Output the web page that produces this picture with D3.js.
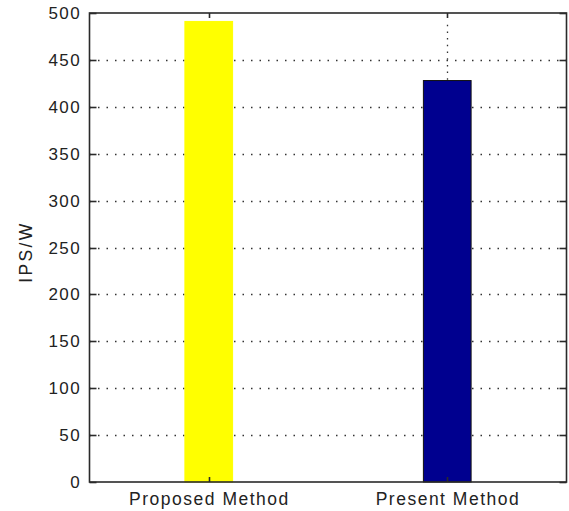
<!DOCTYPE html>
<html>
<head>
<meta charset="utf-8">
<script src="https://cdn.jsdelivr.net/npm/d3@7"></script>
<style>
html,body{margin:0;padding:0;background:#fff;}
svg{display:block;}
text{font-family:"Liberation Sans",Arial,sans-serif;fill:#222;}
</style>
</head>
<body>
<svg id="chart" width="569" height="511"></svg>
<script>
const categories = ["Proposed Method", "Present Method"];
const values = [491, 428];
const colors = ["#FFFF00", "#00008F"];
const yTicks = [0, 50, 100, 150, 200, 250, 300, 350, 400, 450, 500];
const yLabel = "IPS/W";

const svg = d3.select("#chart");
const L = 89.5, R = 566.5, T = 13, B = 482;

const x = d3.scaleLinear().domain([0.5, 2.5]).range([L, R]);
const y = d3.scaleLinear().domain([0, 500]).range([B, T]);
const barW = x(1.1) - x(0.9);

// grid
const g = svg.append("g");
g.selectAll("line.hg").data(yTicks.filter(d => d > 0 && d < 500)).join("line")
  .attr("x1", L).attr("x2", R)
  .attr("y1", d => Math.round(y(d)) + 0.5).attr("y2", d => Math.round(y(d)) + 0.5)
  .attr("stroke", "#333").attr("stroke-width", 1.3)
  .attr("stroke-dasharray", "1.5,7");
g.selectAll("line.vg").data(categories).join("line")
  .attr("x1", (d, i) => Math.round(x(i + 1)) + 0.5).attr("x2", (d, i) => Math.round(x(i + 1)) + 0.5)
  .attr("y1", T + 11.7).attr("y2", B)
  .attr("stroke", "#333").attr("stroke-width", 1.3)
  .attr("stroke-dasharray", "1.5,5.2");

// bars
svg.selectAll("rect.bar").data(values).join("rect")
  .attr("x", (d, i) => x(i + 1) - barW / 2)
  .attr("y", d => y(d))
  .attr("width", barW)
  .attr("height", d => B - y(d))
  .attr("fill", (d, i) => colors[i])
  .attr("stroke", (d, i) => i === 0 ? colors[i] : "#111")
  .attr("stroke-width", 1);

// frame
svg.append("rect").attr("x", L).attr("y", T).attr("width", R - L).attr("height", B - T)
  .attr("fill", "none").attr("stroke", "#2a2a2a").attr("stroke-width", 1.6);

// y ticks (left and right, inward)
const yt = svg.append("g");
yTicks.forEach(d => {
  const yy = Math.round(y(d)) + 0.5;
  yt.append("line").attr("x1", L).attr("x2", L + 7).attr("y1", yy).attr("y2", yy).attr("stroke", "#2a2a2a").attr("stroke-width", 1.6);
  yt.append("line").attr("x1", R - 7).attr("x2", R).attr("y1", yy).attr("y2", yy).attr("stroke", "#2a2a2a").attr("stroke-width", 1.6);
  yt.append("text").attr("x", 81).attr("y", yy).attr("text-anchor", "end")
    .attr("dominant-baseline", "central").attr("font-size", 17).style("letter-spacing", "1.4px")
    .text(d);
});

// x ticks (top and bottom, inward)
categories.forEach((c, i) => {
  const xx = Math.round(x(i + 1)) + 0.5;
  svg.append("line").attr("x1", xx).attr("x2", xx).attr("y1", T).attr("y2", T + 5).attr("stroke", "#2a2a2a").attr("stroke-width", 1.6);
  svg.append("line").attr("x1", xx).attr("x2", xx).attr("y1", B - 5).attr("y2", B).attr("stroke", "#2a2a2a").attr("stroke-width", 1.6);
  svg.append("text").attr("x", x(i + 1) + 0.7).attr("y", 504.5).attr("text-anchor", "middle")
    .attr("font-size", 17.5).style("letter-spacing", "1.5px").text(c);
});

// y label
svg.append("text").attr("transform", "translate(32,252) rotate(-90)")
  .attr("text-anchor", "middle").attr("font-size", 17.5).style("letter-spacing", "2.4px").text(yLabel);
</script>
</body>
</html>
